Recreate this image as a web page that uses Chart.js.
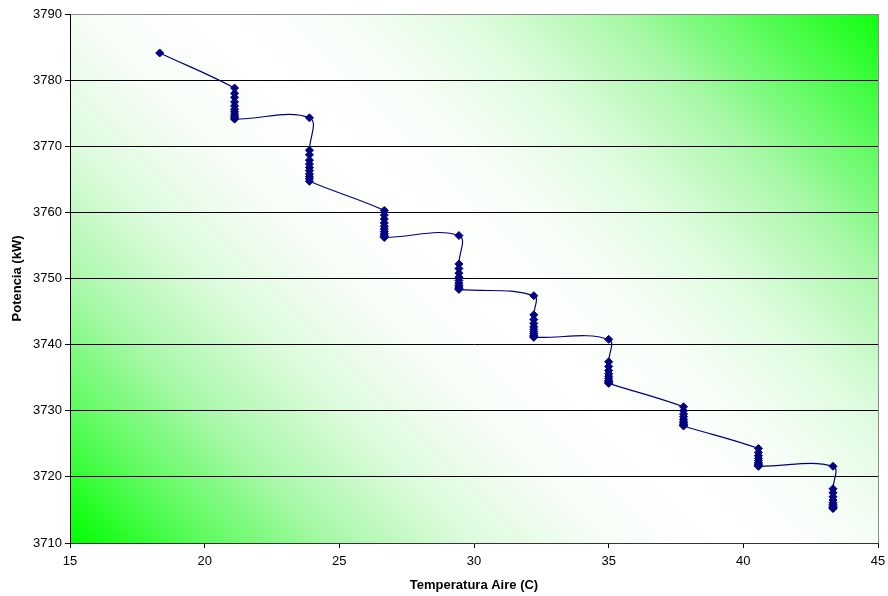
<!DOCTYPE html>
<html>
<head>
<meta charset="utf-8">
<script src="https://cdn.jsdelivr.net/npm/chart.js@4"></script>
<style>
  body { margin: 0; background: #fff; }
  canvas { display: block; }
</style>
</head>
<body>
<canvas id="potenciaChart" width="888" height="596"></canvas>
<script>
// Temperaturas de aire (C) de cada grupo de puntos
const temperaturas = [18.33, 21.11, 23.89, 26.67, 29.44, 32.22, 35.0, 37.78, 40.56, 43.33];

// Potencia (kW) por temperatura, en el orden en que los une la línea
const pot18 = [3784.1];
const pot21 = [3778.8, 3778.0, 3777.4, 3776.7, 3776.1, 3775.6, 3775.2, 3774.85, 3774.55, 3774.3, 3774.1];
const pot24 = [3774.3, 3769.4, 3768.7, 3767.9, 3767.3, 3766.8, 3766.3, 3765.8, 3765.4, 3765.1, 3764.7];
const pot27 = [3760.3, 3759.6, 3759.0, 3758.4, 3757.9, 3757.5, 3757.1, 3756.8, 3756.55, 3756.35, 3756.2];
const pot29 = [3756.5, 3752.2, 3751.5, 3750.8, 3750.2, 3749.7, 3749.3, 3748.95, 3748.7, 3748.5, 3748.35];
const pot32 = [3747.4, 3744.5, 3743.8, 3743.2, 3742.7, 3742.3, 3741.95, 3741.65, 3741.4, 3741.2, 3741.1];
const pot35 = [3740.8, 3737.4, 3736.7, 3736.1, 3735.6, 3735.2, 3734.9, 3734.6, 3734.4, 3734.25, 3734.15];
const pot38 = [3730.6, 3730.0, 3729.5, 3729.1, 3728.7, 3728.4, 3728.15, 3727.95, 3727.8, 3727.7];
const pot41 = [3724.3, 3723.7, 3723.2, 3722.8, 3722.45, 3722.15, 3721.95, 3721.8, 3721.7, 3721.6];
const pot43 = [3721.6, 3718.2, 3717.6, 3717.0, 3716.5, 3716.1, 3715.8, 3715.55, 3715.4, 3715.3, 3715.2];

const potencias = [pot18, pot21, pot24, pot27, pot29, pot32, pot35, pot38, pot41, pot43];

// Ejes
const xTicks = [15, 20, 25, 30, 35, 40, 45];
const yTicks = [3710, 3720, 3730, 3740, 3750, 3760, 3770, 3780, 3790];

const puntos = [];
temperaturas.forEach((t, i) => {
    potencias[i].forEach(p => puntos.push({ x: t, y: p }));
});

// Fondo del área de trazado: degradado verde - blanco - verde a 45 grados
const fondoPlugin = {
    id: 'fondo',
    beforeDraw(chart) {
        const { ctx, chartArea: a } = chart;
        ctx.save();
        ctx.fillStyle = '#ffffff';
        ctx.fillRect(0, 0, chart.width, chart.height);
        const k = ((a.right - a.left) + (a.bottom - a.top)) / 2;
        const g = ctx.createLinearGradient(a.left, a.bottom, a.left + k, a.bottom - k);
        g.addColorStop(0, '#00ff00');
        g.addColorStop(0.1, '#5cfb5c');
        g.addColorStop(0.2, '#aaf8aa');
        g.addColorStop(0.3, '#dcfbdc');
        g.addColorStop(0.4, '#f6fdf6');
        g.addColorStop(0.5, '#ffffff');
        g.addColorStop(0.6, '#f6fdf6');
        g.addColorStop(0.7, '#dcfbdc');
        g.addColorStop(0.8, '#aaf8aa');
        g.addColorStop(0.9, '#5cfb5c');
        g.addColorStop(1, '#10ff10');
        ctx.fillStyle = g;
        ctx.fillRect(a.left, a.top, a.right - a.left, a.bottom - a.top);
        ctx.restore();
    },
    afterDraw(chart) {
        const { ctx, chartArea: a } = chart;
        ctx.save();
        ctx.strokeStyle = '#8c8c8c';
        ctx.lineWidth = 1;
        ctx.beginPath();
        ctx.moveTo(Math.round(a.right) + 0.5, a.top);
        ctx.lineTo(Math.round(a.right) + 0.5, a.bottom);
        ctx.stroke();
        ctx.restore();
    }
};

const fuente = { family: 'Arial, "Liberation Sans", sans-serif', size: 13 };
const fuenteTitulo = { family: fuente.family, size: 13, weight: 'bold' };

new Chart(document.getElementById('potenciaChart').getContext('2d'), {
    type: 'scatter',
    data: {
        datasets: [{
            data: puntos,
            showLine: true,
            tension: 0.4,
            borderColor: '#000080',
            borderWidth: 1.2,
            backgroundColor: '#000080',
            pointStyle: 'rectRot',
            pointRadius: 4,
            pointBorderWidth: 1,
            pointBorderColor: '#000080',
            pointBackgroundColor: '#000080'
        }]
    },
    options: {
        responsive: false,
        animation: false,
        layout: { padding: { top: 14, right: 10, left: 0, bottom: 0 } },
        plugins: { legend: { display: false }, tooltip: { enabled: false } },
        scales: {
            x: {
                type: 'linear',
                min: 15,
                max: 45,
                afterBuildTicks: s => { s.ticks = xTicks.map(v => ({ value: v })); },
                afterFit: s => { s.height = 53; s.paddingLeft = 0; s.paddingRight = 0; },
                ticks: { color: '#000', font: fuente, padding: 5.5, maxRotation: 0, callback: v => String(v) },
                grid: { drawOnChartArea: false, tickLength: 5, tickColor: '#000' },
                border: { color: '#333', width: 1 },
                title: {
                    display: true,
                    text: 'Temperatura Aire (C)',
                    color: '#000',
                    font: fuenteTitulo,
                    padding: { top: 0, bottom: 3.2 }
                }
            },
            y: {
                type: 'linear',
                min: 3710,
                max: 3790,
                afterBuildTicks: s => { s.ticks = yTicks.map(v => ({ value: v })); },
                afterFit: s => { s.width = 70; },
                ticks: { color: '#000', font: fuente, padding: 3, callback: v => String(v) },
                grid: {
                    tickLength: 5,
                    tickColor: '#000',
                    lineWidth: 1,
                    color: c => c.tick && c.tick.value === 3790 ? '#8c8c8c'
                        : (c.tick && c.tick.value === 3710 ? 'rgba(0,0,0,0)' : '#000')
                },
                border: { color: '#000', width: 1 },
                title: {
                    display: true,
                    text: 'Potencia (kW)',
                    color: '#000',
                    font: fuenteTitulo,
                    padding: { top: 9.2, bottom: 0 }
                }
            }
        }
    },
    plugins: [fondoPlugin]
});
</script>
</body>
</html>
